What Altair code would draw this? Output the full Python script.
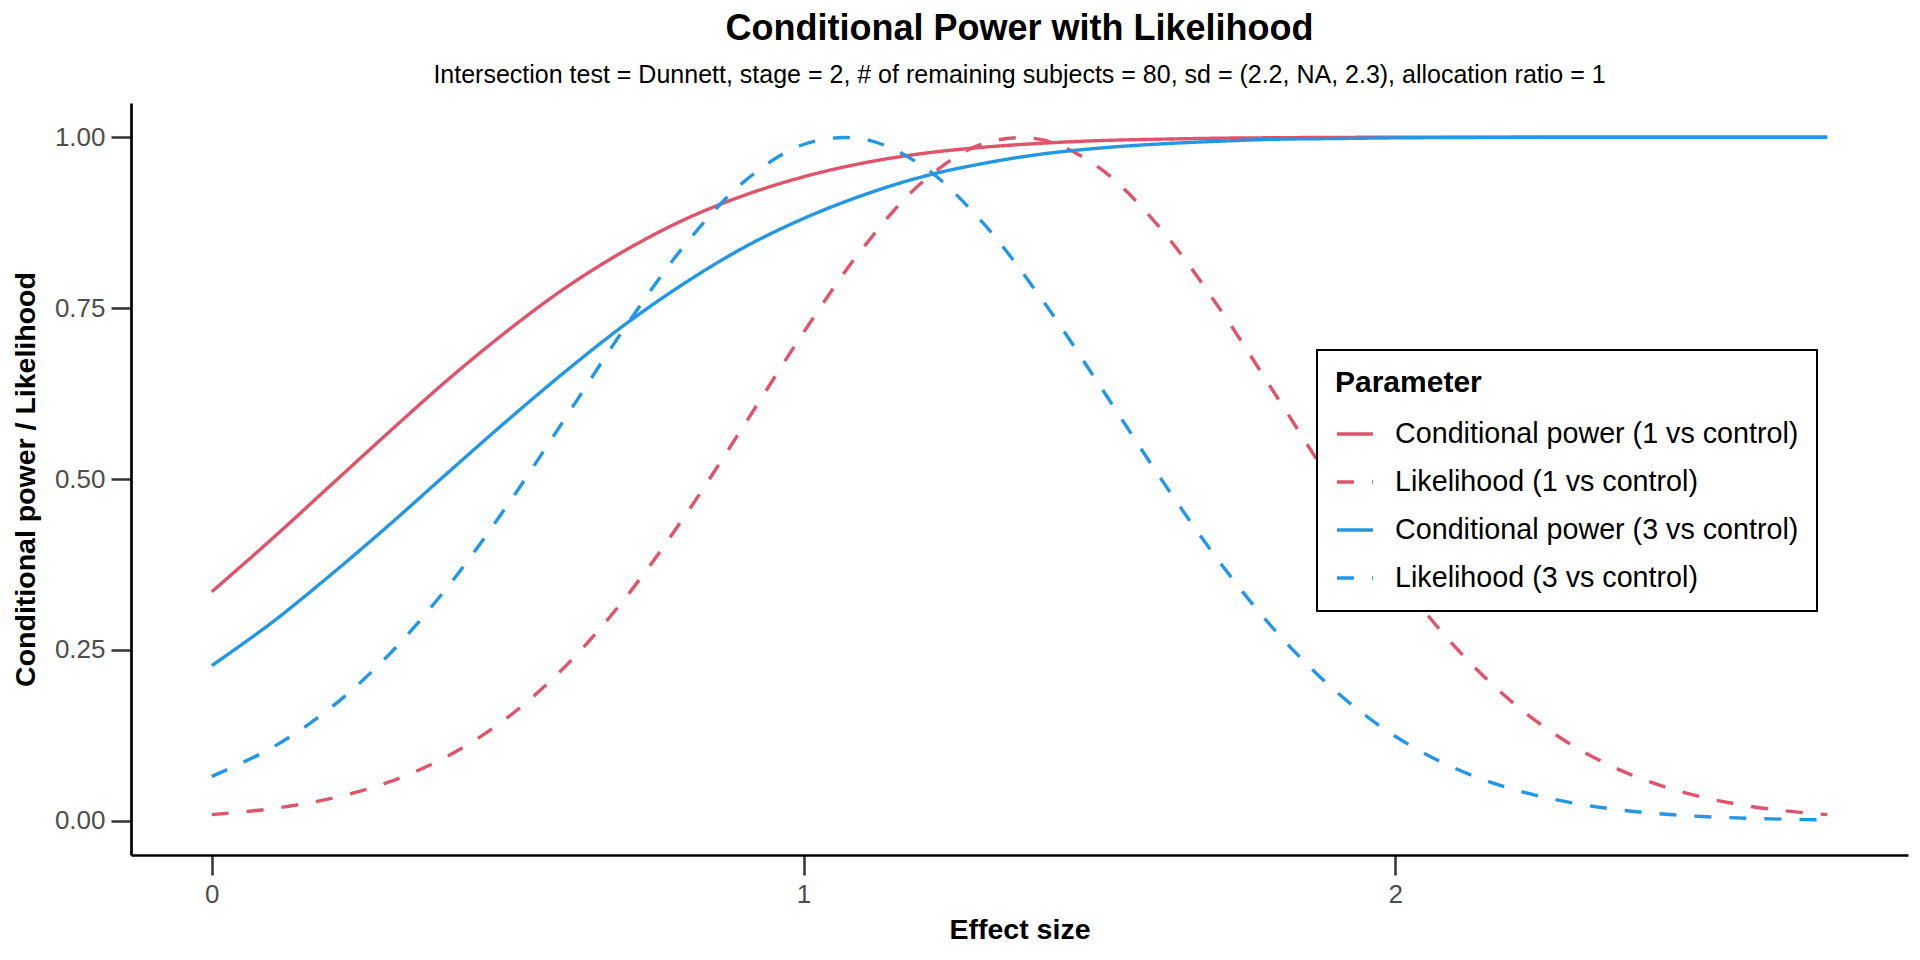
import altair as alt
import pandas as pd

# effect size grid
effect_size = [0.0, 0.1, 0.2, 0.3, 0.4, 0.5, 0.6, 0.7, 0.8, 0.9, 1.0, 1.1, 1.2, 1.3, 1.4,
               1.5, 1.6, 1.7, 1.8, 1.9, 2.0, 2.1, 2.2, 2.3, 2.4, 2.5, 2.6, 2.7, 2.73]

cp_1 = [0.335, 0.411, 0.490, 0.569, 0.646, 0.717, 0.781, 0.835, 0.880, 0.915, 0.942,
        0.962, 0.976, 0.985, 0.991, 0.995, 0.997, 0.9985, 0.9992, 0.9997, 0.9999,
        1.0, 1.0, 1.0, 1.0, 1.0, 1.0, 1.0, 1.0]
lik_1 = [0.0091, 0.0176, 0.0325, 0.0570, 0.0952, 0.1512, 0.2281, 0.3273, 0.4466, 0.5793,
         0.7143, 0.8375, 0.9336, 0.9894, 0.9969, 0.955, 0.8698, 0.7532, 0.6201, 0.4854,
         0.3612, 0.2556, 0.1719, 0.1100, 0.0669, 0.0387, 0.0212, 0.0111, 0.0091]
cp_3 = [0.227, 0.289, 0.359, 0.433, 0.510, 0.586, 0.659, 0.727, 0.787, 0.839, 0.881,
        0.915, 0.942, 0.961, 0.975, 0.984, 0.990, 0.994, 0.997, 0.998, 0.999,
        0.9995, 0.9998, 0.9999, 1.0, 1.0, 1.0, 1.0, 1.0]
lik_3 = [0.0650, 0.1060, 0.1646, 0.2436, 0.3437, 0.4622, 0.5925, 0.7237, 0.8427, 0.9353,
         0.9893, 0.9974, 0.9584, 0.8778, 0.7663, 0.6376, 0.5056, 0.3822, 0.2754, 0.1891,
         0.1237, 0.0772, 0.0459, 0.0260, 0.0140, 0.0072, 0.0036, 0.0017, 0.0013]

series_names = ["Conditional power (1 vs control)", "Likelihood (1 vs control)",
                "Conditional power (3 vs control)", "Likelihood (3 vs control)"]
series_values = [cp_1, lik_1, cp_3, lik_3]
series_colors = ["#DF536B", "#DF536B", "#2297E6", "#2297E6"]
series_dash = [[1, 0], [17, 18], [1, 0], [17, 18]]

x_ticks = [0, 1, 2]
y_ticks = [0, 0.25, 0.5, 0.75, 1.0]

rows = []
for order, (name, vals) in enumerate(zip(series_names, series_values)):
    for xv, yv in zip(effect_size, vals):
        rows.append({"x": xv, "y": yv, "Parameter": name, "order": order})
df = pd.DataFrame(rows)

FONT = "Liberation Sans"

chart = alt.Chart(df).mark_line(
    strokeWidth=3.4, interpolate="catmull-rom"
).encode(
    x=alt.X("x:Q",
            scale=alt.Scale(domain=[-0.1365, 2.8665], nice=False, zero=False),
            axis=alt.Axis(title="Effect size", values=x_ticks, format="d",
                          labelPadding=6, titlePadding=8)),
    y=alt.Y("y:Q",
            scale=alt.Scale(domain=[-0.05, 1.05], nice=False, zero=False),
            axis=alt.Axis(title="Conditional power / Likelihood", values=y_ticks,
                          format=".2f", labelPadding=6, titlePadding=14)),
    color=alt.Color("Parameter:N",
                    scale=alt.Scale(domain=series_names, range=series_colors),
                    legend=alt.Legend(title="Parameter", orient="none",
                                      legendX=1186, legendY=247,
                                      symbolType="stroke", symbolSize=1296,
                                      symbolStrokeWidth=3.4, labelOffset=20,
                                      labelLimit=1000,
                                      padding=18, rowPadding=13, titlePadding=16,
                                      strokeColor="black", fillColor="white")),
    strokeDash=alt.StrokeDash("Parameter:N",
                              scale=alt.Scale(domain=series_names, range=series_dash)),
    order=alt.Order("x:Q"),
    detail="order:N",
).properties(
    width=1777,
    height=752,
    title=alt.Title(
        text="Conditional Power with Likelihood",
        subtitle="Intersection test = Dunnett, stage = 2, # of remaining subjects = 80, sd = (2.2, NA, 2.3), allocation ratio = 1",
        anchor="middle", frame="group", fontSize=36, subtitleFontSize=25,
        font=FONT, subtitleFont=FONT, fontWeight="bold", color="black",
        subtitleColor="black", offset=14, subtitlePadding=15),
    autosize=alt.AutoSizeParams(type="none"),
    padding={"left": 123, "top": 95, "right": 2, "bottom": 90},
).configure_view(
    strokeWidth=0
).configure_axis(
    grid=False, domainColor="black", domainWidth=2.7, tickColor="#333333",
    tickWidth=2.5, tickSize=20, labelFont=FONT, labelFontSize=26,
    labelColor="#4D4D4D", titleFont=FONT, titleFontSize=28.5,
    titleFontWeight="bold", titleColor="black"
).configure_legend(
    titleFont=FONT, titleFontSize=30, titleFontWeight="bold", titleColor="black",
    labelFont=FONT, labelFontSize=28.7, labelColor="black", strokeWidth=2
)

chart.save("out.html", embed_options={"renderer": "svg", "actions": False})
